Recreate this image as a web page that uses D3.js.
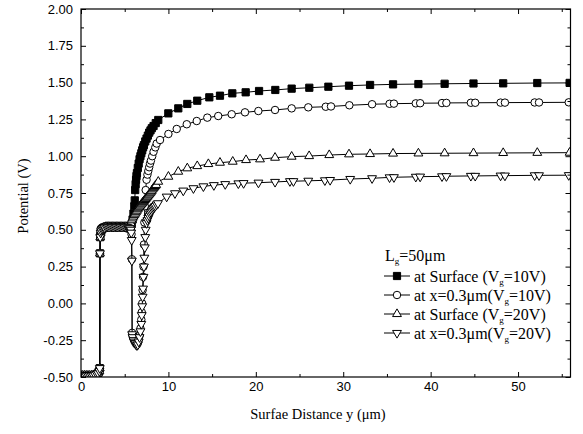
<!DOCTYPE html>
<html>
<head>
<meta charset="utf-8">
<script src="https://cdn.jsdelivr.net/npm/d3@7"></script>
<style>
  body { margin: 0; background: #fff; }
  svg { display: block; }
</style>
</head>
<body>
<script>
// shared part of all four curves: source side, step at y=2.15, plateau
var leftPart = [[0,-0.49],[0.2,-0.49],[0.4,-0.49],[0.6,-0.49],[0.8,-0.49],[1.0,-0.49],[1.2,-0.49],[1.4,-0.49],
  [1.6,-0.485],[1.8,-0.48],[1.95,-0.475],[2.1,-0.46],[2.15,-0.44],[2.17,0.34],[2.2,0.45],[2.25,0.48],[2.3,0.495],
  [2.4,0.505],[2.5,0.51],[2.6,0.515],[2.7,0.515],[2.85,0.52],[3.0,0.52],[3.15,0.52],[3.3,0.52],[3.45,0.52],[3.6,0.52],
  [3.75,0.52],[3.9,0.52],[4.05,0.52],[4.2,0.52],[4.35,0.52],[4.5,0.52],[4.65,0.52],[4.8,0.52],[4.95,0.52],[5.1,0.52],
  [5.25,0.52],[5.4,0.515],[5.5,0.51]];

var surf10 = [[5.6,0.51],[5.7,0.52],[5.8,0.54],[5.9,0.57],[6.0,0.61],[6.1,0.66],[6.15,0.70],[6.2,0.77],[6.25,0.81],
  [6.3,0.84],[6.35,0.865],[6.4,0.885],[6.5,0.92],[6.6,0.95],[6.7,0.98],[6.8,1.0],[6.9,1.02],[7.0,1.04],[7.1,1.06],
  [7.2,1.075],[7.35,1.1],[7.5,1.12],[7.65,1.14],[7.8,1.16],[7.95,1.175],[8.1,1.19],[8.3,1.205],[8.55,1.225],
  [8.84,1.246],[9.99,1.291],[11.13,1.325],[12.16,1.355],[13.3,1.377],[14.68,1.4],[15.9,1.411],[17.31,1.427],
  [18.84,1.434],[20.37,1.443],[22.23,1.45],[24.1,1.459],[26.12,1.465],[28.3,1.472],[30.66,1.479],[33.07,1.484],
  [35.7,1.488],[38.6,1.49],[41.6,1.492],[44.9,1.494],[48.3,1.495],[52.2,1.497],[55.9,1.498]];

var deep10 = [[5.6,0.51],[5.7,0.5],[5.78,0.47],[5.82,0.3],[5.85,-0.2],[5.9,-0.22],[6.0,-0.24],[6.1,-0.255],[6.2,-0.265],
  [6.3,-0.275],[6.4,-0.28],[6.5,-0.27],[6.6,-0.25],[6.7,-0.22],[6.8,-0.17],[6.9,-0.11],[6.95,-0.06],[7.0,0.0],
  [7.05,0.09],[7.1,0.18],[7.15,0.25],[7.2,0.4],[7.25,0.55],[7.3,0.66],[7.4,0.77],[7.5,0.84],[7.6,0.875],[7.7,0.9],
  [7.8,0.925],[7.9,0.95],[8.0,0.97],[8.15,1.0],[8.3,1.03],[8.5,1.06],[8.66,1.086],[9.04,1.11],[10.0,1.151],
  [10.95,1.185],[12.1,1.217],[13.24,1.239],[14.45,1.262],[15.7,1.273],[17.24,1.285],[18.76,1.298],[20.29,1.307],
  [22.2,1.314],[24.1,1.325],[26.0,1.332],[28.0,1.336],[28.6,1.338],[30.7,1.346],[33.3,1.353],[35.3,1.356],
  [35.8,1.357],[38.3,1.359],[38.8,1.36],[41.3,1.361],[41.8,1.362],[44.6,1.363],[45.1,1.363],[48.0,1.364],
  [48.5,1.364],[51.9,1.365],[52.4,1.365],[55.8,1.366]];

var surf20 = [[5.6,0.53],[5.7,0.545],[5.8,0.565],[5.9,0.578],[6.0,0.59],[6.1,0.6],[6.2,0.61],[6.3,0.62],[6.4,0.63],
  [6.5,0.64],[6.6,0.65],[6.7,0.657],[6.8,0.665],[6.9,0.673],[7.0,0.68],[7.1,0.688],[7.2,0.695],[7.3,0.703],
  [7.4,0.71],[7.5,0.718],[7.6,0.725],[7.7,0.733],[7.8,0.74],[7.9,0.748],[8.0,0.755],[8.1,0.765],[8.2,0.775],
  [8.3,0.783],[8.4,0.79],[8.5,0.798],[8.6,0.805],[8.84,0.827],[10.0,0.861],[11.13,0.895],[12.16,0.918],
  [13.3,0.933],[14.57,0.947],[15.9,0.956],[17.36,0.963],[18.88,0.974],[20.48,0.979],[22.2,0.99],[24.1,0.997],
  [26.1,1.001],[28.4,1.008],[30.66,1.013],[33.07,1.015],[35.7,1.018],[38.6,1.019],[41.6,1.02],[44.9,1.021],
  [48.3,1.022],[52.2,1.023],[55.9,1.024]];

var deep20 = [[5.6,0.51],[5.7,0.5],[5.75,0.48],[5.8,0.43],[5.82,0.29],[5.85,-0.21],[5.9,-0.23],[6.0,-0.25],[6.1,-0.26],
  [6.2,-0.27],[6.3,-0.28],[6.4,-0.285],[6.5,-0.28],[6.6,-0.26],[6.7,-0.23],[6.8,-0.19],[6.9,-0.14],[6.95,-0.08],
  [7.0,-0.02],[7.05,0.045],[7.1,0.1],[7.15,0.18],[7.2,0.25],[7.25,0.31],[7.3,0.38],[7.35,0.45],[7.4,0.5],
  [7.5,0.545],[7.6,0.565],[7.7,0.58],[7.8,0.595],[7.9,0.61],[8.0,0.62],[8.1,0.63],[8.2,0.64],[8.3,0.648],
  [8.4,0.655],[8.5,0.662],[8.65,0.672],[8.8,0.68],[9.8,0.725],[10.75,0.748],[11.7,0.766],[12.86,0.782],
  [14.0,0.795],[15.2,0.803],[16.5,0.81],[18.0,0.815],[18.6,0.817],[20.3,0.82],[22.2,0.825],[23.9,0.83],
  [24.3,0.83],[26.0,0.833],[27.9,0.836],[28.5,0.838],[30.8,0.845],[33.3,0.85],[35.3,0.856],[35.8,0.857],
  [38.3,0.86],[38.8,0.861],[41.3,0.863],[41.8,0.864],[44.6,0.866],[45.1,0.866],[48.0,0.868],[48.5,0.868],
  [51.9,0.87],[52.4,0.87],[55.8,0.871]];

var xMajor = [0, 10, 20, 30, 40, 50];
var xMinor = [5, 15, 25, 35, 45, 55];
var yMajor = [-0.5, -0.25, 0, 0.25, 0.5, 0.75, 1.0, 1.25, 1.5, 1.75, 2.0];
var yMinor = [-0.375, -0.125, 0.125, 0.375, 0.625, 0.875, 1.125, 1.375, 1.625, 1.875];

var seriesNames = ["at Surface (V|=10V)", "at x=0.3\u03bcm(V|=10V)", "at Surface (V|=20V)", "at x=0.3\u03bcm(V|=20V)"];

var width = 583, height = 434;
var x = d3.scaleLinear().domain([0, 56]).range([81, 570.5]);
var y = d3.scaleLinear().domain([-0.5, 2]).range([377, 9]);

var sym = {
  square: d3.symbol().type(d3.symbolSquare).size(52),
  circle: d3.symbol().type(d3.symbolCircle).size(44),
  tri: d3.symbol().type(d3.symbolTriangle).size(34)
};
var series = [
  {data: leftPart.concat(surf10), path: sym.square(), fill: "#000", rot: 0},
  {data: leftPart.concat(deep10), path: sym.circle(), fill: "#fff", rot: 0},
  {data: leftPart.concat(surf20), path: sym.tri(), fill: "#fff", rot: 0},
  {data: leftPart.concat(deep20), path: sym.tri(), fill: "#fff", rot: 180}
];

var svg = d3.select("body").append("svg")
    .attr("width", width)
    .attr("height", height);

svg.append("clipPath").attr("id", "clip")
  .append("rect")
    .attr("x", x(0)).attr("y", y(2))
    .attr("width", x(56) - x(0)).attr("height", y(-0.5) - y(2));

var plot = svg.append("g").attr("clip-path", "url(#clip)");
var line = d3.line().x(d => x(d[0])).y(d => y(d[1]));

series.forEach(function(s) {
  var g = plot.append("g");
  g.append("path")
      .attr("d", line(s.data))
      .attr("fill", "none")
      .attr("stroke", "#000")
      .attr("stroke-width", 1);
  g.selectAll("path.m")
    .data(s.data)
    .join("path")
      .attr("class", "m")
      .attr("d", s.path)
      .attr("transform", d => `translate(${x(d[0])},${y(d[1])}) rotate(${s.rot})`)
      .attr("fill", s.fill)
      .attr("stroke", "#000")
      .attr("stroke-width", 1);
});

// axes: ticks point inward, mirrored on top/right
function styleAxis(g) {
  g.select(".domain").remove();
  g.selectAll("line").attr("stroke", "#000");
  g.selectAll("text")
    .attr("fill", "#000")
    .attr("font-family", "Liberation Sans, Arial, sans-serif")
    .attr("font-size", 13);
}
var yb = y(-0.5), yt = y(2), xl = x(0), xr = x(56);

svg.append("g").attr("transform", `translate(0,${yb})`)
  .call(d3.axisBottom(x).tickValues(xMajor).tickSizeInner(-5).tickSizeOuter(0).tickPadding(5)).call(styleAxis);
svg.append("g").attr("transform", `translate(0,${yb})`)
  .call(d3.axisBottom(x).tickValues(xMinor).tickSizeInner(-3).tickSizeOuter(0).tickFormat("")).call(styleAxis);
svg.append("g").attr("transform", `translate(0,${yt})`)
  .call(d3.axisTop(x).tickValues(xMajor).tickSizeInner(-5).tickSizeOuter(0).tickFormat("")).call(styleAxis);
svg.append("g").attr("transform", `translate(0,${yt})`)
  .call(d3.axisTop(x).tickValues(xMinor).tickSizeInner(-3).tickSizeOuter(0).tickFormat("")).call(styleAxis);

svg.append("g").attr("transform", `translate(${xl},0)`)
  .call(d3.axisLeft(y).tickValues(yMajor).tickSizeInner(-5).tickSizeOuter(0).tickPadding(8)
    .tickFormat(d => d.toFixed(2))).call(styleAxis);
svg.append("g").attr("transform", `translate(${xl},0)`)
  .call(d3.axisLeft(y).tickValues(yMinor).tickSizeInner(-3).tickSizeOuter(0).tickFormat("")).call(styleAxis);
svg.append("g").attr("transform", `translate(${xr},0)`)
  .call(d3.axisRight(y).tickValues(yMajor).tickSizeInner(-5).tickSizeOuter(0).tickFormat("")).call(styleAxis);
svg.append("g").attr("transform", `translate(${xr},0)`)
  .call(d3.axisRight(y).tickValues(yMinor).tickSizeInner(-3).tickSizeOuter(0).tickFormat("")).call(styleAxis);

svg.append("rect")
    .attr("x", xl).attr("y", yt)
    .attr("width", xr - xl).attr("height", yb - yt)
    .attr("fill", "none").attr("stroke", "#000").attr("stroke-width", 1.2);

var serif = "Liberation Serif, Times New Roman, serif";

svg.append("text")
    .attr("transform", "translate(28,196) rotate(-90)")
    .attr("text-anchor", "middle")
    .attr("font-family", serif).attr("font-size", 14.5)
    .text("Potential (V)");

svg.append("text")
    .attr("x", 318).attr("y", 419)
    .attr("text-anchor", "middle")
    .attr("font-family", serif).attr("font-size", 14.5)
    .text("Surfae Distance y (\u03bcm)");

// legend
var leg = svg.append("g").attr("font-family", serif).attr("font-size", 16);
var lg = leg.append("text").attr("x", 385).attr("y", 261);
lg.append("tspan").text("L");
lg.append("tspan").attr("font-size", 9).attr("dy", 3).text("g");
lg.append("tspan").attr("dy", -3).text("=50\u03bcm");

series.forEach(function(s, i) {
  var ry = 276 + i * 19;
  leg.append("line")
      .attr("x1", 384).attr("x2", 410).attr("y1", ry).attr("y2", ry)
      .attr("stroke", "#000");
  leg.append("path")
      .attr("d", s.path)
      .attr("transform", `translate(397,${ry}) rotate(${s.rot})`)
      .attr("fill", s.fill).attr("stroke", "#000");
  var parts = seriesNames[i].split("|");
  var t = leg.append("text").attr("x", 414).attr("y", ry + 5.5);
  t.append("tspan").text(parts[0]);
  t.append("tspan").attr("font-size", 9).attr("dy", 3).text("g");
  t.append("tspan").attr("dy", -3).text(parts[1]);
});
</script>
</body>
</html>
